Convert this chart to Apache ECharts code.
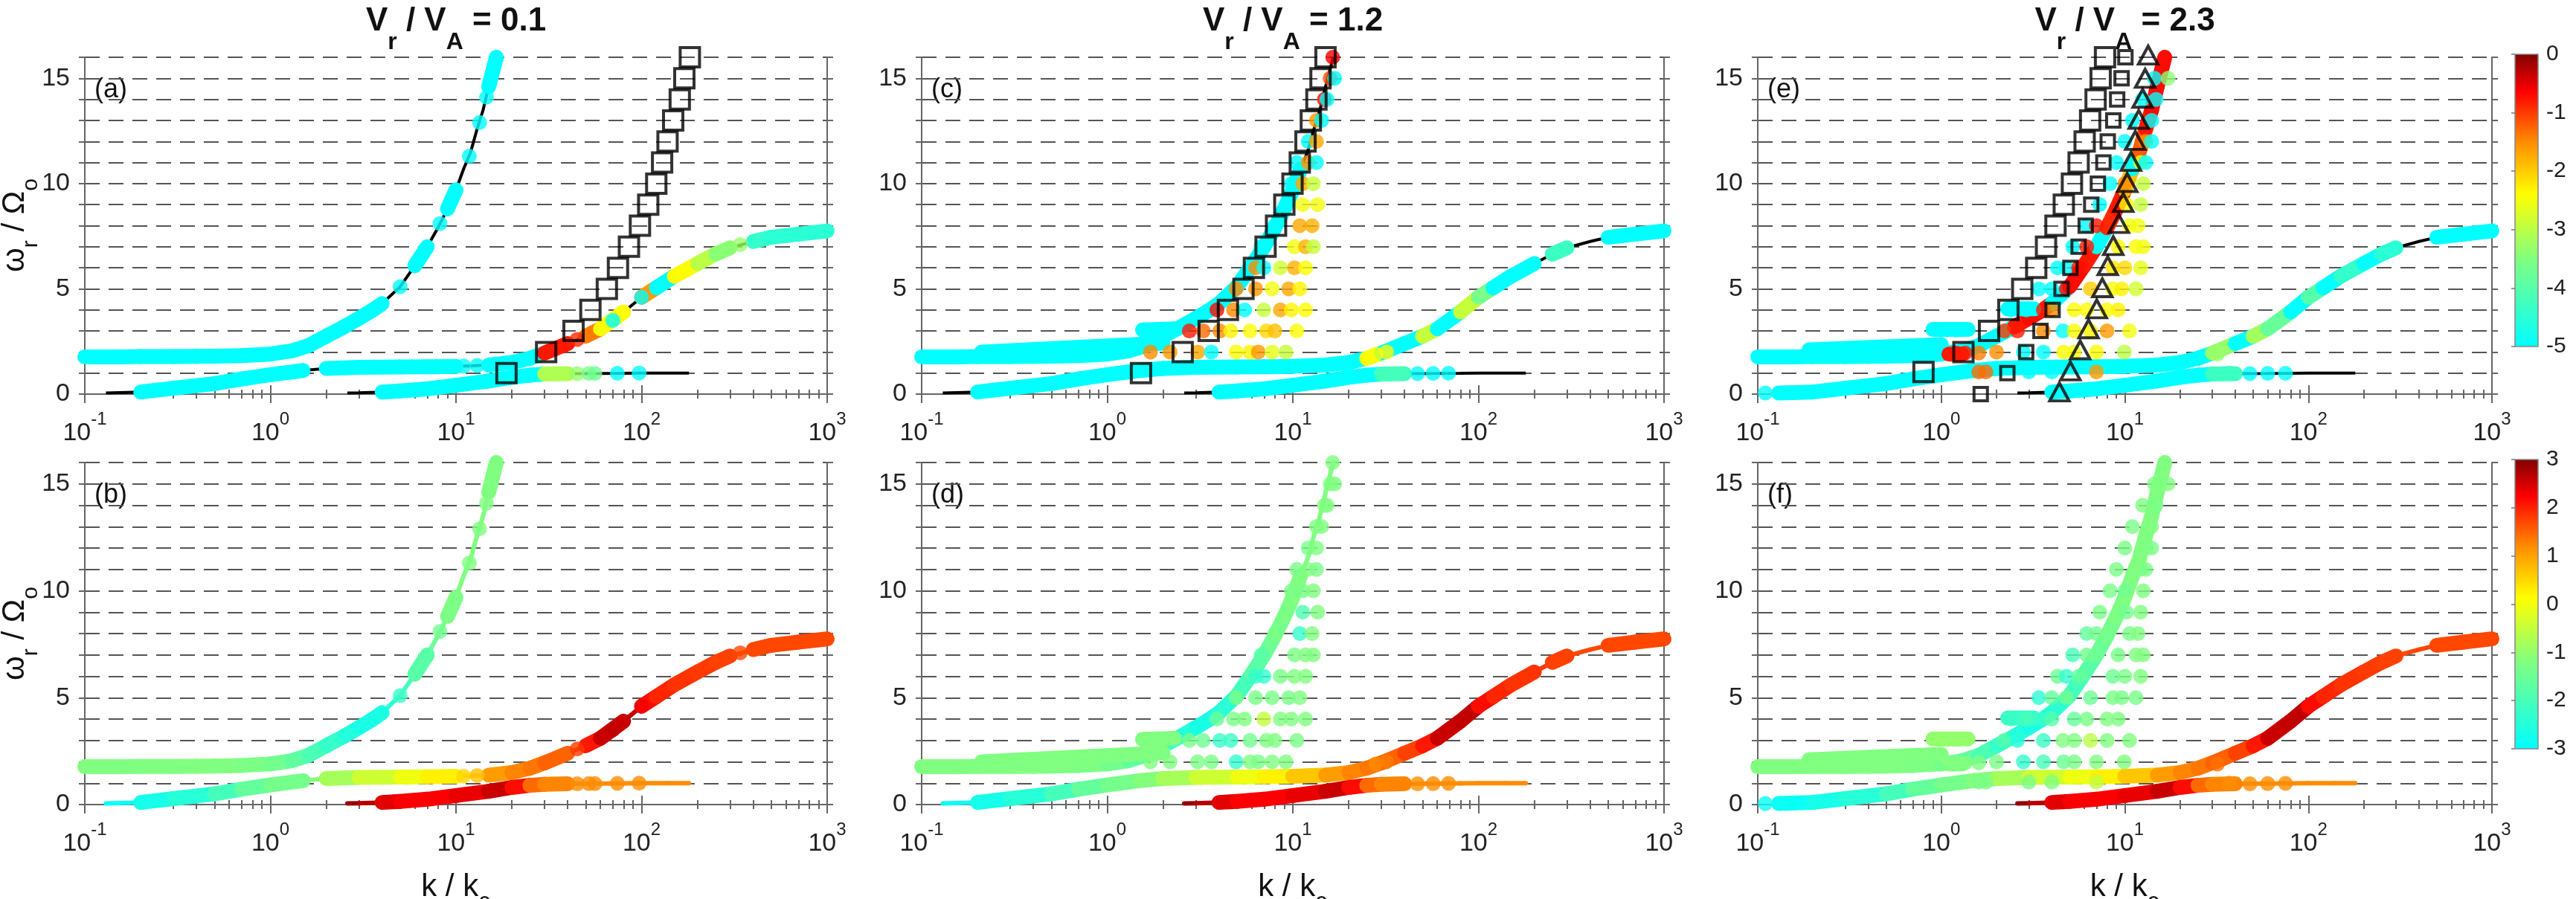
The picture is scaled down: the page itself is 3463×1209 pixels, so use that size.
<!DOCTYPE html>
<html>
<head>
<meta charset="utf-8">
<script src="https://cdn.jsdelivr.net/npm/echarts@6/dist/echarts.min.js"></script>
<style>
html, body { margin: 0; background: #fff; }
#chart { width: 3463px; height: 1209px; }
</style>
</head>
<body>
<div id="chart"></div>
<script>
// dispersion curves, k / k0 against omega_r / Omega_o
const k1 = [0.1, 0.15, 0.2, 0.3, 0.4, 0.5, 0.7, 1.0, 1.3, 1.6, 2.0, 2.5, 3.0, 3.5, 4.0, 5.0, 6.0, 7.0, 8.0, 9.0, 10, 11, 12, 13, 14, 15, 16.5];
const w1 = [1.77, 1.77, 1.78, 1.78, 1.79, 1.8, 1.83, 1.9, 2.05, 2.3, 2.75, 3.2, 3.6, 3.95, 4.3, 5.1, 6.1, 7.0, 7.9, 8.8, 9.7, 10.7, 11.5, 12.6, 13.5, 14.6, 16.0];
const k2 = [0.13, 0.2, 0.3, 0.5, 0.7, 1.0, 1.5, 2, 3, 5, 7, 10, 15, 20, 25, 30, 40, 50, 60, 80, 100, 120, 150, 200, 250, 300, 400, 500, 700, 1000];
const w2 = [0.05, 0.1, 0.28, 0.5, 0.72, 0.92, 1.12, 1.22, 1.27, 1.29, 1.3, 1.32, 1.38, 1.5, 1.7, 1.95, 2.4, 2.75, 3.1, 3.9, 4.6, 5.05, 5.6, 6.2, 6.65, 6.95, 7.25, 7.45, 7.6, 7.75];
const k3 = [2.6, 3, 4, 5, 7, 10, 15, 20, 25, 30, 40, 60, 80, 100, 140, 180];
const w3 = [0.05, 0.06, 0.1, 0.15, 0.25, 0.42, 0.62, 0.8, 0.9, 0.95, 0.97, 0.98, 0.99, 1.0, 1.0, 1.0];

// lower row colour value at each curve point
const g1 = [-1.2, -1.2, -1.2, -1.2, -1.2, -1.2, -1.2, -1.3, -1.5, -1.8, -2.1, -2.4, -2.6, -2.7, -2.6, -2.2, -1.9, -1.6, -1.4, -1.3, -1.2, -1.2, -1.2, -1.2, -1.2, -1.2, -1.2];
const g2 = [-2.9, -2.8, -2.6, -2.3, -1.8, -1.4, -1.3, -1.0, -0.6, -0.2, 0.1, 0.4, 0.9, 1.2, 1.3, 1.4, 1.6, 1.9, 2.2, 2.9, 2.3, 2.0, 1.9, 1.8, 1.8, 1.7, 1.7, 1.7, 1.7, 1.7];
const g3 = [2.9, 2.8, 2.5, 2.3, 2.2, 2.3, 2.4, 2.7, 1.6, 1.3, 1.2, 1.2, 1.2, 1.2, 1.2, 1.2];

// upper row value of the thick band on each curve segment (null: only the line)
const bandA1 = [-5, -5, -5, -5, -5, -5, -5, -5, -5, -5, -5, -5, -5, -5, null, null, -5, null, null, -5, null, null, null, null, null, -5];
const bandA2 = [null, -5, -5, -5, -5, -5, null, -5, -5, -5, -5, null, -5, -5, -5, -0.8, null, -1.4, -2.4, null, -1.6, -5, -2.4, -3.0, -3.4, null, -4.4, -4.5, -4.5];
const bandA3 = [null, null, -5, -5, -5, -5, -5, -5, -5, -3.1, null, null, null, null, null];
const bandC1 = [-5, -5, -5, -5, -5, -5, -5, -5, -5, -5, -5, -5, -5, -5, -5, -5, -5, -5, -5, -5, -5, null, null, null, null, null];
const bandC2 = [null, -5, -5, -5, -5, -5, -5, -5, -5, -5, -5, -5, -5, -5, -2.4, -5, -5, -2.9, -5, -2.9, -3.6, -5, -5, null, -4.3, null, null, -5, -5];
const bandC3 = [null, null, -5, -5, -5, -5, -5, -5, -5, -4.2, null, null, null, null, null];
const bandE1 = [-5, -5, -5, -5, -5, -5, -5, -5, -5, -5, -5, -0.8, -0.7, -0.8, -5, -0.7, -0.8, -5, -0.9, -0.8, -1.9, -5, -1.2, -0.8, -0.7, -0.7];
const bandE2 = [-5, -5, -5, -5, -5, -5, -5, -5, -5, -5, -5, -5, -5, -5, -5, -3.3, -5, -3.2, -3.8, -5, -4.0, -5, -4.4, -5, -4.5, null, null, -5, -5];
const bandE3 = [null, null, -5, -5, -5, -5, -5, -5, -5, -4.3, null, null, null, null, null];

// straight extra bands [k0, w0, k1, w1, upper value, lower value]
const stripC = [[0.21, 2.0, 2.0, 2.42, -5, -1.2], [1.55, 3.05, 2.3, 3.1, -5, -1.2]];
const stripE = [[0.19, 2.1, 1.0, 2.35, -5, -1.2], [0.9, 3.07, 1.4, 3.07, -5, -1.0], [2.3, 4.05, 3.2, 4.05, -5, -2.2], [1.1, 1.9, 1.3, 1.9, -0.8, -1.2]];

// single points [k, w, upper value, lower value]
const dotsA = [
  [5.0, 5.1, -5, -2.2], [8.2, 8.1, -5, -1.4], [11.8, 11.3, -5, -1.2], [13.4, 12.9, -5, -1.2], [14.6, 14.1, -5, -1.2],
  [11, 1.33, -5, 0.5], [13, 1.36, -5, 0.7], [70, 3.5, -5, 2.6], [100, 4.6, -5, 2.3], [45, 2.6, -0.9, 1.8], [340, 7.1, -3.3, 1.7],
  [45, 0.97, -3.3, 1.2], [52, 0.98, -3.6, 1.2], [56, 0.98, -3.7, 1.2], [74, 0.99, -5, 1.2], [97, 1.0, -5, 1.2]
];
const dotsC = [
  [1.71, 2, -1.5, -1.2], [2.18, 2, -1.6, -1.2], [3.07, 2, -1.7, -1.3], [3.64, 2, -5, -1.3], [4.95, 2, -2.4, -2.3], [5.88, 2, -2.3, -1.2], [6.51, 2, -1.6, -1.3], [7.73, 2, -2.6, -1.2], [9.18, 2, -2.9, -1.2],
  [2.77, 3, -0.8, -1.3], [3.29, 3, -1.3, -1.5], [4.04, 3, -1.5, -2.2], [4.63, 3, -2.3, -2.2], [5.88, 3, -2.4, -1.4], [7.21, 3, -2.1, -1.2], [8.0, 3, -1.9, -1.2], [10.5, 3, -2.4, -1.3],
  [3.9, 4, -0.7, -1.5], [4.79, 4, -1.5, -1.3], [5.5, 4, -5, -1.2], [6.98, 4, -2.9, -0.5], [8.57, 4, -1.7, -1.2], [9.82, 4, -2.3, -1.2], [11.7, 4, -2.4, -1.2],
  [4.95, 5, -1.5, -1.3], [6.3, 5, -1.6, -1.3], [7.73, 5, -2.5, -1.3], [9.5, 5, -1.7, -1.3], [10.9, 5, -2.3, -1.2],
  [6.3, 6, -1.5, -2.3], [6.98, 6, -5, -2.3], [8.57, 6, -2.8, -1.3], [10.2, 6, -1.8, -1.2], [11.7, 6, -2.4, -1.2],
  [6.74, 7, -5, -1.8], [10.2, 7, -2.5, -1.3], [11.7, 7, -1.8, -1.2], [12.9, 7, -2.9, -1.2],
  [8.0, 8, -5, -1.3], [10.9, 8, -1.7, -2.3], [12.7, 8, -1.8, -1.2],
  [9.2, 9, -5, -1.3], [11.3, 9, -2.5, -1.9], [13.6, 9, -2.5, -1.2],
  [9.82, 10, -5, -1.3], [11.3, 10, -1.7, -1.3], [12.9, 10, -2.9, -1.2],
  [10.5, 11, -5, -1.3], [12.1, 11, -1.6, -1.2], [13.4, 11, -5, -1.3],
  [12.1, 12, -5, -1.3], [13.4, 12, -1.7, -1.2],
  [13.4, 13, -1.6, -1.2], [14.3, 13, -5, -1.2],
  [14.8, 14, -0.7, -1.2], [15.3, 14, -5, -1.2],
  [15.9, 15, -1.1, -1.2], [16.8, 15, -5, -1.2],
  [16.4, 16, -0.6, -1.2],
  [28, 1.9, -2.4, 1.2], [32, 2.0, -2.4, 1.3],
  [47, 0.97, -5, 1.2], [57, 0.98, -5, 1.2], [69, 0.99, -5, 1.2]
];
const dotsE = [
  [1.6, 1.05, -1.3, -1.3], [1.75, 1.05, -1.3, -1.3], [7.0, 1.05, -1.6, -0.5], [3.0, 1.05, -5, -1.3], [4.0, 1.05, -5, -1.2],
  [1.2, 1.95, -0.8, -1.2], [1.35, 1.95, -0.8, -1.2], [1.6, 1.95, -1.4, -1.2], [2.0, 2, -1.5, -1.3], [2.8, 2, -5, -2.3], [3.6, 2, -5, -2.0], [4.64, 2, -2.4, -1.5], [5.3, 2, -2.5, -1.3], [7.0, 2, -2.4, -1.2], [9.93, 2, -3.0, -1.2],
  [1.0, 3.05, -5, -1.0], [1.2, 3.05, -5, -1.0], [2.2, 3, -1.0, -1.8], [2.6, 3, -0.8, -2.5], [3.6, 3, -1.5, -2.2], [4.6, 3, -5, -1.2], [5.3, 3, -2.4, -1.2], [6.5, 3, -2.3, -0.6], [8.0, 3, -1.6, -1.2], [10.6, 3, -2.5, -1.2],
  [2.4, 4, -5, -2.2], [2.9, 4, -5, -2.0], [3.6, 4, -0.8, -2.2], [4.0, 4, -1.5, -1.8], [5.3, 4, -2.4, -1.6], [6.2, 4, -2.4, -1.3], [8.0, 4, -2.4, -1.2], [9.2, 4, -2.3, -1.2],
  [3.4, 5, -5, -2.4], [4.0, 5, -5, -1.6], [4.8, 5, -0.7, -1.4], [6.5, 5, -2.0, -1.5], [8.6, 5, -2.5, -1.3], [9.6, 5, -2.3, -1.3], [11.5, 5, -2.8, -1.3],
  [4.3, 6, -5, -1.5], [4.8, 6, -5, -2.3], [5.6, 6, -0.7, -1.6], [8.6, 6, -2.2, -1.5], [10, 6, -2.1, -1.3], [12.2, 6, -2.6, -1.2],
  [5.2, 7, -5, -2.0], [6.2, 7, -0.8, -1.4], [9.2, 7, -2.4, -1.3], [11.5, 7, -2.4, -1.2], [12.6, 7, -2.5, -1.2],
  [6.2, 8, -5, -1.6], [7.0, 8, -0.8, -1.4], [10.6, 8, -2.5, -1.3], [11.8, 8, -2.5, -1.2],
  [7.3, 9, -5, -1.3], [10.2, 9, -2.4, -1.4], [12.2, 9, -2.9, -1.2],
  [8.3, 10, -5, -1.3], [10.0, 10, -1.5, -1.4], [12.6, 10, -2.9, -1.2],
  [9.0, 11, -5, -1.3], [12.2, 11, -2.5, -1.2], [13.0, 11, -5, -1.3],
  [10.0, 12, -5, -1.3], [13.0, 12, -1.6, -1.2], [14.0, 12, -5, -1.3],
  [11.0, 13, -5, -1.3], [14.0, 13, -5, -1.2],
  [12.5, 14, -5, -1.2], [14.8, 14, -5, -1.3],
  [14.5, 15, -5, -1.2], [17.2, 15, -3.4, -1.2],
  [32, 1.9, -3.3, 1.4], [37, 1.0, -4.3, 1.2], [48, 0.97, -5, 1.2], [60, 0.98, -5, 1.2], [75, 0.99, -5, 1.2],
  [0.11, 0.05, -5, -2.9], [0.16, 0.07, -5, -2.9]
];

// open markers of the upper row
const sqA = [[18.7, 1.0], [30.6, 2], [43, 3], [53, 4], [65, 5], [74.6, 6], [85.5, 7], [98, 8], [108.6, 9], [120, 10], [129, 11], [138, 12], [148, 13], [160.6, 14], [170, 15], [182, 16]];
const sqC = [[1.52, 1], [2.55, 2], [3.52, 3], [4.47, 4], [5.42, 5], [6.17, 6], [7.13, 7], [8.12, 8], [9.0, 9], [9.96, 10], [10.9, 11], [11.7, 12], [12.5, 13], [13.4, 14], [14.1, 15], [15.0, 16]];
const sqE = [[0.8, 1.05], [1.32, 2], [1.82, 3], [2.32, 4], [2.76, 5], [3.29, 6], [3.72, 7], [4.19, 8], [4.65, 9], [5.15, 10], [5.6, 11], [6.04, 12], [6.47, 13], [6.93, 14], [7.38, 15], [7.8, 16]];
const sqSmallE = [[1.64, 0], [2.29, 1], [2.9, 2], [3.47, 3], [4.04, 4], [4.52, 5], [5.05, 6], [5.6, 7], [6.12, 8], [6.56, 9], [7.13, 10], [7.64, 11], [8.07, 12], [8.65, 13], [9.08, 14], [9.6, 15], [10.07, 16]];
const triE = [[4.4, 0.1], [5.05, 1.1], [5.71, 2.1], [6.34, 3.1], [7.03, 4.05], [7.54, 5.05], [8.07, 6.1], [8.65, 7.05], [9.27, 8.1], [9.8, 9.1], [10.3, 10.05], [10.8, 11.05], [11.4, 12.05], [11.9, 13.05], [12.5, 14.05], [12.9, 15], [13.4, 16.1]];

const titles = ['0.1', '1.2', '2.3'];
const letters = [['(a)', '(b)'], ['(c)', '(d)'], ['(e)', '(f)']];
const barTicks = [[-5, 0], [-3, 3]];

// colour map, cyan -> green -> yellow -> orange -> red -> dark red
const palette = (function () {
    const st = [[0, [0, 255, 255]], [0.3, [128, 255, 128]], [0.52, [255, 255, 0]], [0.7, [255, 140, 0]], [0.87, [255, 0, 0]], [1, [128, 0, 0]]];
    const out = [];
    for (let i = 0; i <= 40; i++) {
        const p = i / 40;
        let j = 0;
        while (j < st.length - 2 && p > st[j + 1][0]) j++;
        const t = (p - st[j][0]) / (st[j + 1][0] - st[j][0]);
        const c = st[j][1].map((v, m) => Math.round(v + (st[j + 1][1][m] - v) * t));
        out.push('rgb(' + c.join(',') + ')');
    }
    return out;
})();

const FONT = 'Liberation Sans, Arial, sans-serif';
const gridLeft = [114, 1239, 2363];
const gridWidth = [998, 998, 987];
const gridTop = [77, 622];
const gridHeight = [453, 460];

const curves = [{k: k1, w: w1, g: g1}, {k: k2, w: w2, g: g2}, {k: k3, w: w3, g: g3}];
const cols = [
    {bands: [bandA1, bandA2, bandA3], strips: [], dots: dotsA,
     marks: [{data: sqA, symbol: 'rect', size: 26}]},
    {bands: [bandC1, bandC2, bandC3], strips: stripC, dots: dotsC,
     marks: [{data: sqC, symbol: 'rect', size: 26}]},
    {bands: [bandE1, bandE2, bandE3], strips: stripE, dots: dotsE,
     marks: [{data: sqE, symbol: 'rect', size: 26}, {data: sqSmallE, symbol: 'rect', size: 18},
             {data: triE, symbol: 'triangle', size: [26, 24]}]}
];

const chart = echarts.init(document.getElementById('chart'));

function segItem(width) {
    return function (params, api) {
        const a = api.coord([api.value(0), api.value(1)]);
        const b = api.coord([api.value(3), api.value(4)]);
        return {
            type: 'line',
            shape: {x1: a[0], y1: a[1], x2: b[0], y2: b[1]},
            style: {stroke: api.visual('color'), lineWidth: width, lineCap: 'round'}
        };
    };
}

const lineStyle = {color: '#666', width: 2};
const grids = [], xAxes = [], yAxes = [], series = [], topIdx = [], botIdx = [];

for (let r = 0; r < 2; r++) {
    for (let c = 0; c < 3; c++) {
        grids.push({left: gridLeft[c], top: gridTop[r], width: gridWidth[c], height: gridHeight[r], outerBoundsMode: 'none'});
    }
}
grids.forEach((g, i) => {
    xAxes.push({
        type: 'log', logBase: 10, gridIndex: i, min: 0.1, max: 1000, position: 'bottom',
        axisLine: {show: true, lineStyle: lineStyle},
        axisTick: {show: true, inside: false, length: 12, lineStyle: lineStyle},
        minorTick: {show: true, splitNumber: 9, length: 6, lineStyle: lineStyle},
        splitLine: {show: false},
        axisLabel: {
            margin: 22,
            formatter: v => '{b|10}{s|' + Math.round(Math.log10(v)) + '}',
            rich: {
                b: {fontSize: 34, fontFamily: FONT, color: '#222', lineHeight: 48, verticalAlign: 'bottom'},
                s: {fontSize: 24, fontFamily: FONT, color: '#222', lineHeight: 18, verticalAlign: 'top'}
            }
        }
    });
    xAxes.push({
        type: 'log', logBase: 10, gridIndex: i, min: 0.1, max: 1000, position: 'top',
        axisLine: {show: true, lineStyle: lineStyle},
        axisTick: {show: true, inside: false, length: 12, lineStyle: lineStyle},
        minorTick: {show: true, splitNumber: 9, length: 6, lineStyle: lineStyle},
        splitLine: {show: false}, axisLabel: {show: false}
    });
    yAxes.push({
        type: 'value', gridIndex: i, min: 0, max: 16, interval: 1, position: 'left',
        axisLine: {show: true, lineStyle: lineStyle},
        axisTick: {show: true, inside: false, length: 8, lineStyle: lineStyle},
        splitLine: {show: true, lineStyle: {color: '#555', width: 2, type: [20, 12]}},
        axisLabel: {margin: 20, fontSize: 34, fontFamily: FONT, color: '#222',
                    formatter: v => (v % 5 === 0 ? String(v) : '')}
    });
    yAxes.push({
        type: 'value', gridIndex: i, min: 0, max: 16, interval: 1, position: 'right',
        axisLine: {show: true, lineStyle: lineStyle},
        axisTick: {show: true, inside: false, length: 8, lineStyle: lineStyle},
        splitLine: {show: false}, axisLabel: {show: false}
    });
});

function add(s, list) {
    if (list) list.push(series.length);
    series.push(s);
}

for (let r = 0; r < 2; r++) {
    cols.forEach((col, c) => {
        const p = r * 3 + c;
        const ax = {xAxisIndex: 2 * p, yAxisIndex: 2 * p};
        const list = r === 0 ? topIdx : botIdx;
        const segDims = {dimensions: ['k0', 'w0', 'v', 'k1', 'w1'], encode: {x: [0, 3], y: [1, 4]}};
        // curves
        if (r === 0) {
            curves.forEach(cv => {
                add(Object.assign({
                    type: 'line', data: cv.k.map((x, i) => [x, cv.w[i]]), showSymbol: false, silent: true,
                    lineStyle: {color: '#000', width: 4}, z: 2
                }, ax));
            });
        } else {
            const lineData = [];
            curves.forEach(cv => {
                for (let i = 0; i < cv.k.length - 1; i++) {
                    lineData.push([cv.k[i], cv.w[i], (cv.g[i] + cv.g[i + 1]) / 2, cv.k[i + 1], cv.w[i + 1]]);
                }
            });
            add(Object.assign({type: 'custom', renderItem: segItem(6), data: lineData, silent: true, z: 2}, segDims, ax), botIdx);
        }
        // thick bands of overlapping points
        const bandData = [];
        curves.forEach((cv, n) => {
            const vals = col.bands[n];
            for (let i = 0; i < cv.k.length - 1; i++) {
                if (vals[i] === null) continue;
                const v = r === 0 ? vals[i] : (cv.g[i] + cv.g[i + 1]) / 2;
                bandData.push([cv.k[i], cv.w[i], v, cv.k[i + 1], cv.w[i + 1]]);
            }
        });
        col.strips.forEach(s => bandData.push([s[0], s[1], r === 0 ? s[4] : s[5], s[2], s[3]]));
        add(Object.assign({type: 'custom', renderItem: segItem(20), data: bandData, silent: true, z: 3}, segDims, ax), list);
        // single points
        add(Object.assign({
            type: 'scatter', symbolSize: 20, clip: false, silent: true, z: 4,
            data: col.dots.map(d => [d[0], d[1], r === 0 ? d[2] : d[3]])
        }, ax), list);
        // open markers
        if (r === 0) {
            col.marks.forEach(m => {
                add(Object.assign({
                    type: 'scatter', symbol: m.symbol, symbolSize: m.size, data: m.data, clip: false, silent: true, z: 5,
                    itemStyle: {color: 'rgba(0,0,0,0)', borderColor: '#000', borderWidth: 4}
                }, ax));
            });
        }
    });
}

// colour bars
const barTop = [73, 618], barHeight = [393, 389];
barTicks.forEach((rng, b) => {
    const gi = grids.length;
    grids.push({left: 3381, top: barTop[b], width: 31, height: barHeight[b], outerBoundsMode: 'none'});
    xAxes.push({type: 'value', gridIndex: gi, min: 0, max: 1, show: false});
    yAxes.push({
        type: 'value', gridIndex: gi, min: rng[0], max: rng[1], interval: 1, position: 'right', z: 10,
        axisLine: {show: false},
        axisTick: {show: true, inside: true, length: 5, lineStyle: {color: '#777', width: 1.5}},
        splitLine: {show: false},
        axisLabel: {margin: 11, fontSize: 30, fontFamily: FONT, color: '#222'}
    });
    add({
        type: 'custom', xAxisIndex: xAxes.length - 1, yAxisIndex: yAxes.length - 1, data: [[0.5, 0]], silent: true,
        renderItem: function (params) {
            const cs = params.coordSys;
            return {
                type: 'rect',
                shape: {x: cs.x, y: cs.y, width: cs.width, height: cs.height},
                style: {
                    fill: new echarts.graphic.LinearGradient(0, 1, 0, 0, palette.map((col, i) => ({offset: i / 40, color: col}))),
                    stroke: '#888', lineWidth: 1.5
                }
            };
        }
    });
});

// texts
const graphic = [];
const centers = gridLeft.map((l, i) => l + gridWidth[i] / 2);
titles.forEach((t, c) => {
    graphic.push({
        type: 'text', x: centers[c], y: 7, silent: true,
        style: {
            text: '{m|V}{s|r}{m| / V}{s|A}{m| = ' + t + '}', align: 'center', verticalAlign: 'top',
            rich: {
                m: {fontSize: 44, fontWeight: 'bold', fontFamily: FONT, fill: '#111', lineHeight: 50, verticalAlign: 'top'},
                s: {fontSize: 32, fontWeight: 'bold', fontFamily: FONT, fill: '#111', lineHeight: 66, verticalAlign: 'bottom'}
            }
        }
    });
    for (let r = 0; r < 2; r++) {
        graphic.push({
            type: 'text', x: gridLeft[c] + 13, y: gridTop[r] + 44, silent: true,
            style: {text: letters[c][r], fontSize: 36, fontFamily: FONT, fill: '#111', align: 'left', verticalAlign: 'middle'}
        });
        if (r === 1) {
            graphic.push({
                type: 'text', x: centers[c], y: 1172, silent: true,
                style: {
                    text: '{m|k / k}{s|0}', align: 'center', verticalAlign: 'top',
                    rich: {
                        m: {fontSize: 42, fontFamily: FONT, fill: '#111', lineHeight: 48, verticalAlign: 'top'},
                        s: {fontSize: 30, fontFamily: FONT, fill: '#111', lineHeight: 60, verticalAlign: 'bottom'}
                    }
                }
            });
        }
    }
});
[303, 852].forEach(cy => {
    graphic.push({
        type: 'text', x: 28, y: cy, rotation: Math.PI / 2, silent: true,
        style: {
            text: '{m|ω}{s|r}{m| / Ω}{s|o}', align: 'center', verticalAlign: 'middle',
            rich: {
                m: {fontSize: 42, fontFamily: FONT, fill: '#111', lineHeight: 48, verticalAlign: 'top'},
                s: {fontSize: 30, fontFamily: FONT, fill: '#111', lineHeight: 58, verticalAlign: 'bottom'}
            }
        }
    });
});

const option = {
    animation: false,
    backgroundColor: '#fff',
    grid: grids,
    xAxis: xAxes,
    yAxis: yAxes,
    visualMap: [
        {type: 'continuous', show: false, dimension: 2, min: -5, max: 0, seriesIndex: topIdx, inRange: {color: palette}},
        {type: 'continuous', show: false, dimension: 2, min: -3, max: 3, seriesIndex: botIdx, inRange: {color: palette}}
    ],
    graphic: graphic,
    series: series
};
chart.setOption(option);
</script>
</body>
</html>
